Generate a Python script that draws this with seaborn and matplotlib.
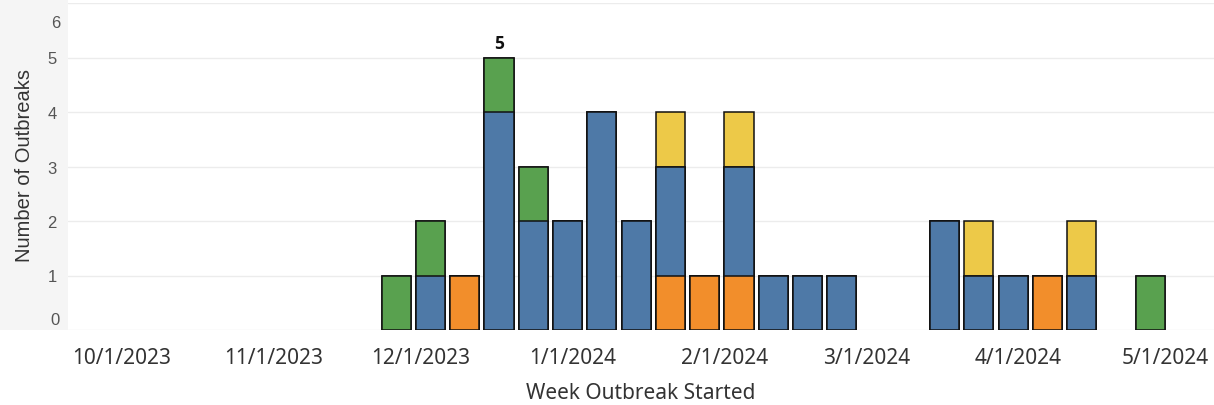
import numpy as np
import pandas as pd
import matplotlib
matplotlib.use("Agg")
import matplotlib.pyplot as plt
import matplotlib.dates as mdates
from matplotlib.patches import Rectangle
import seaborn as sns

# ---- data ----
weeks = ["2023-11-26", "2023-12-03", "2023-12-10", "2023-12-17", "2023-12-24",
         "2023-12-31", "2024-01-07", "2024-01-14", "2024-01-21", "2024-01-28",
         "2024-02-04", "2024-02-11", "2024-02-18", "2024-02-25", "2024-03-03",
         "2024-03-10", "2024-03-17", "2024-03-24", "2024-03-31", "2024-04-07",
         "2024-04-14", "2024-04-21", "2024-04-28"]
orange = [0, 0, 1, 0, 0, 0, 0, 0, 1, 1, 1, 0, 0, 0, 0, 0, 0, 0, 0, 1, 0, 0, 0]
blue   = [0, 1, 0, 4, 2, 2, 4, 2, 2, 0, 2, 1, 1, 1, 0, 0, 2, 1, 1, 0, 1, 0, 0]
green  = [1, 1, 0, 1, 1, 0, 0, 0, 0, 0, 0, 0, 0, 0, 0, 0, 0, 0, 0, 0, 0, 0, 1]
yellow = [0, 0, 0, 0, 0, 0, 0, 0, 1, 0, 1, 0, 0, 0, 0, 0, 0, 1, 0, 0, 1, 0, 0]
month_ticks = ["2023-10-01", "2023-11-01", "2023-12-01", "2024-01-01",
               "2024-02-01", "2024-03-01", "2024-04-01", "2024-05-01"]
month_labels = ["10/1/2023", "11/1/2023", "12/1/2023", "1/1/2024",
                "2/1/2024", "3/1/2024", "4/1/2024", "5/1/2024"]
y_ticks = [0, 1, 2, 3, 4, 5, 6]

layers = ["orange", "blue", "green", "yellow"]          # bottom -> top
layer_vals = {"orange": orange, "blue": blue, "green": green, "yellow": yellow}
colors = {"orange": "#f28e2b", "blue": "#4e79a7", "green": "#59a14f", "yellow": "#edc948"}

# cumulative heights; drawn top layer first so lower layers cover them
x_num = mdates.date2num(pd.to_datetime(weeks))
rows = []
cum = np.zeros(len(weeks))
cums = {}
for L in layers:
    cum = cum + np.array(layer_vals[L])
    cums[L] = cum.copy()
draw_order = layers[::-1]
for L in draw_order:
    for xi, c in zip(x_num, cums[L]):
        rows.append({"week": xi, "layer": L, "height": c})
df = pd.DataFrame(rows)
totals = cums["yellow"]

# ---- figure ----
sns.set_style("white")
plt.rcParams["font.family"] = ["Noto Sans", "DejaVu Sans"]

W, H = 1214, 406
fig = plt.figure(figsize=(W / 100, H / 100), dpi=100)
left, right, bottom, top = 68, 1214, 331, 4
ax = fig.add_axes([left / W, (H - bottom) / H, (right - left) / W, (bottom - top) / H])

# gray panel behind y-axis
fig.patches.append(Rectangle((0, (H - bottom) / H), left / W, bottom / H,
                             transform=fig.transFigure, facecolor="#f5f5f5",
                             edgecolor="none", zorder=-5))

sns.barplot(data=df, x="week", y="height", hue="layer", hue_order=draw_order,
            palette=colors, saturation=1, dodge=False, native_scale=True, width=0.85,
            edgecolor="#111111", linewidth=1.1, legend=False, ax=ax, zorder=3)

# drop zero-height bars
for p in list(ax.patches):
    if p.get_height() == 0 or np.isnan(p.get_height()):
        p.remove()

# label on the tallest bar
imax = int(np.argmax(totals))
ax.annotate(f"{int(totals[imax])}", (x_num[imax], totals[imax]), xytext=(0, 4),
            textcoords="offset points", ha="center", va="bottom",
            fontsize=12.5, fontweight="bold", color="#111111",
            family=["Open Sans", "DejaVu Sans"])

tick_num = mdates.date2num(pd.to_datetime(month_ticks))
ax.set_xlim(mdates.date2num(pd.Timestamp("2023-09-20")),
            mdates.date2num(pd.Timestamp("2024-05-11")))
ax.set_ylim(0, 6)
ax.set_xticks(tick_num)
ax.set_xticklabels(month_labels, fontsize=15, color="#333333")
ax.tick_params(axis="x", length=4, color="#e6e6e6", pad=8)

# y tick labels: inner ones on the grid lines, end ones tucked inside
ax.set_yticks(y_ticks)
ax.set_yticklabels([str(v) if 0 < v < 6 else "" for v in y_ticks], fontsize=12,
                   color="#555555", family=["Liberation Sans", "DejaVu Sans"])
ax.tick_params(axis="y", length=0, pad=8)
ytfont = dict(fontsize=12, color="#555555", family=["Liberation Sans", "DejaVu Sans"])
ax.annotate(str(y_ticks[-1]), (0, y_ticks[-1]), xycoords=("axes fraction", "data"),
            xytext=(-8, -12), textcoords="offset pixels", ha="right", va="top", **ytfont)
ax.annotate(str(y_ticks[0]), (0, y_ticks[0]), xycoords=("axes fraction", "data"),
            xytext=(-8, 3), textcoords="offset pixels", ha="right", va="bottom", **ytfont)

ax.grid(axis="y", color="#ececec", linewidth=1, zorder=0)
ax.grid(axis="x", visible=False)
for s in ax.spines.values():
    s.set_visible(False)

ax.set_xlabel("Week Outbreak Started", fontsize=15, color="#333333", labelpad=10)
ax.set_ylabel("")
fig.text(25 / W, (H - 166) / H, "Number of Outbreaks", rotation=90,
         ha="center", va="center", fontsize=14.5, color="#333333",
         family=["Liberation Sans", "DejaVu Sans"])

fig.savefig("out.png", dpi=100)
